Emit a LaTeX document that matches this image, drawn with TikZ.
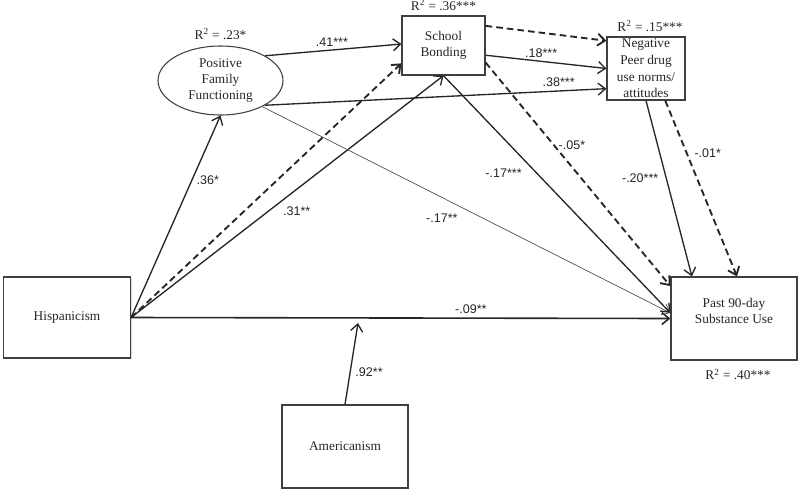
\documentclass[tikz,border=0pt]{standalone}
\usepackage{fontspec}
\setmainfont{Liberation Serif}
\newfontfamily\labelsans{Liberation Sans}
\usetikzlibrary{arrows.meta,positioning,shapes.geometric,shadows}

\begin{document}
\begin{tikzpicture}[x=0.75pt, y=-0.75pt, >={Straight Barb[length=5.5pt,width=9pt]},
    box/.style={draw=black!75, line width=0.9pt, fill=white, align=center, inner sep=0pt,
        font=\fontsize{10}{12}\selectfont, text=black!85,
        drop shadow={shadow xshift=1pt, shadow yshift=-1pt, opacity=0.3}},
    oval/.style={ellipse, draw=black!75, line width=0.8pt, align=center, inner sep=0pt,
        font=\fontsize{10}{12}\selectfont, text=black!85},
    rsq/.style={inner sep=1pt, font=\fontsize{10}{12}\selectfont, text=black!85},
    lbl/.style={inner sep=1pt, font={\labelsans\fontsize{9.4}{11}\selectfont}, text=black!85},
    path/.style={->, line width=1pt, black!85},
    dpath/.style={->, line width=1.4pt, black!85, dash pattern=on 5pt off 3pt},
    thinpath/.style={->, line width=0.5pt, black!70}]
    \useasboundingbox (0,0) rectangle (800,494);

    % Constructs
    \node[box, minimum width=95.25pt, minimum height=60.75pt] (hisp) at (67,317.5) {Hispanicism};
    \node[box, minimum width=94.5pt, minimum height=62.25pt] (past) at (734,318.5) {Past 90-day\\Substance Use\\\mbox{}};
    \node[box, minimum width=94.5pt, minimum height=62.25pt] (amer) at (345,446.5) {Americanism};
    \node[box, minimum width=62.25pt, minimum height=44.25pt] (school) at (443.5,45.5) {School\\Bonding};
    \node[box, minimum width=58.5pt, minimum height=47.25pt, font=\fontsize{10}{12.5}\selectfont] (peer) at (646,68.5) {Negative\\Peer drug\\use norms/\\attitudes};
    \node[oval, minimum width=93.75pt, minimum height=51.75pt] (pff) at (220.5,80.5) {Positive\\Family\\Functioning};

    % Explained variance
    \node[rsq, above=3.5pt of pff] (pffr) {R\textsuperscript{2} = .23*};
    \node[rsq, above=2.5pt of school] (schoolr) {R\textsuperscript{2} = .36***};
    \node[rsq, above=2.5pt of peer, xshift=3pt] (peerr) {R\textsuperscript{2} = .15***};
    \node[rsq, below=5pt of past, xshift=3pt] (pastr) {R\textsuperscript{2} = .40***};

    % Paths from Hispanicism
    \draw[path] (hisp.east) -- node[lbl, pos=0.68, shift={(16,0)}] {.36*} (pff.south);
    \draw[dpath] (hisp.east) -- (school.203);
    \draw[path] (hisp.east) -- node[lbl, pos=0.53, shift={(0,22)}] {.31**} (school.south);
    \draw[path, line width=1.2pt] (hisp.east) -- node[lbl, pos=0.63, shift={(0,-9)}] {-.09**} (past.west);

    % Moderation by Americanism
    \coordinate (modpt) at (358,323);
    \draw[path] (amer.north) -- node[lbl, pos=0.39, shift={(19,0)}] {.92**} (modpt);

    % Paths from family functioning
    \draw[path] (pff.29) -- node[lbl, pos=0.49, shift={(0,-8)}] {.41***} (school.178);
    \draw[path] (pff.331) -- node[lbl, pos=0.86, shift={(0,-9)}] {.38***} (peer.207);
    \draw[thinpath] (pff.328) -- node[lbl, pos=0.44, shift={(0,21)}] {-.17**} (past.175);

    % Paths from school bonding
    \draw[dpath] (school.25) -- (peer.145);
    \draw[path] (school.-13) -- node[lbl, pos=0.46, shift={(0,-8.5)}] {.18***} (peer.west);
    \draw[path] (school.south) -- node[lbl, pos=0.41, shift={(-33,0)}] {-.17***} (past.175);
    \draw[dpath] (school.-22) -- node[lbl, pos=0.37, shift={(18,0)}] {-.05*} (past.153);

    % Paths from peer norms
    \draw[path] (peer.south) -- node[lbl, pos=0.44, shift={(-26,0)}] {-.20***} (past.135);
    \draw[dpath] (peer.301) -- node[lbl, pos=0.3, shift={(21,0)}] {-.01*} (past.86);

\end{tikzpicture}
\end{document}
